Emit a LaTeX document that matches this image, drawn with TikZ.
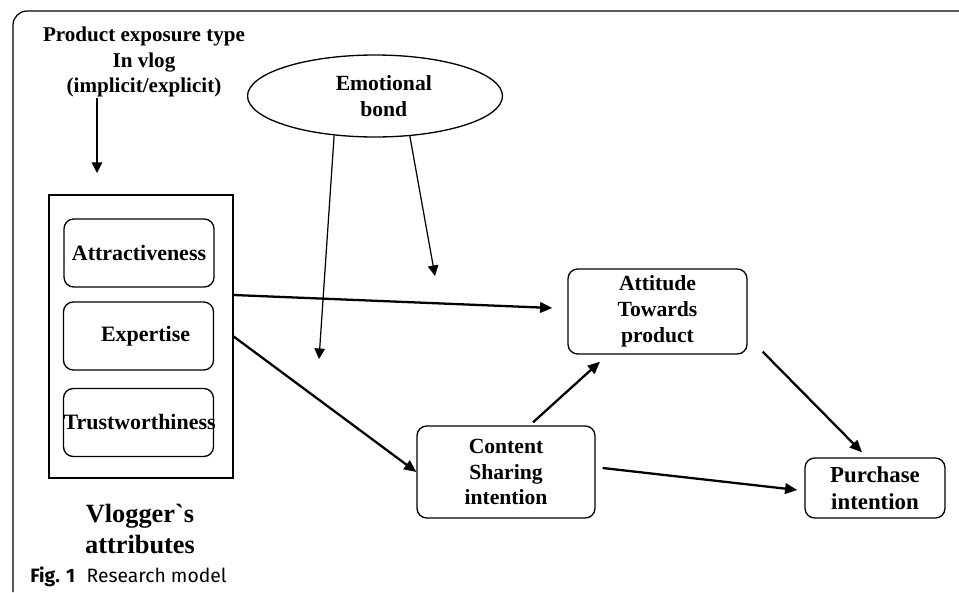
\documentclass[tikz,border=0pt]{standalone}
\usepackage{fontspec}
\setmainfont{Liberation Serif}
\newfontfamily\capfont{Fira Sans}
\usetikzlibrary{arrows.meta,shapes.geometric,calc}

\begin{document}
\begin{tikzpicture}[x=0.02cm,y=-0.02cm,
		lbl/.style={font=\bfseries\fontsize{12}{14.7}\selectfont,align=center,inner sep=0pt},
		attrbox/.style={draw,rounded corners=5.5pt,line width=0.75pt,text width=3cm,minimum height=1.36cm,inner xsep=0pt,align=center,font=\bfseries\fontsize{12.5}{15}\selectfont},
		modelbox/.style={draw,rounded corners=5.5pt,line width=0.75pt,align=center,inner sep=0pt,font=\bfseries\fontsize{12.3}{14.7}\selectfont},
		thinarrow/.style={-{Triangle[length=6pt,width=6pt]},line width=0.7pt},
		thickarrow/.style={-{Triangle[length=7pt,width=6pt]},line width=1.3pt}]
		\useasboundingbox (0,0) rectangle (959,592);
		\draw[line width=0.7pt,rounded corners=8pt] (13,592) -- (13,11) -- (959,11);
		\node[lbl] (expo) at (144,62) {Product exposure type\\In vlog\\(implicit/explicit)};
		\coordinate (expoEnd) at (97,173);
		\draw[thinarrow] (expo.south -| expoEnd) -- (expoEnd);
		\node[draw,line width=0.75pt,minimum width=3.68cm,minimum height=5.66cm] (vattr) at (141,336.5) {};
		\node[attrbox] (attract) at (139,253) {Attractiveness};
		\node[attrbox] (expert) at (138.5,336) {\hspace*{8pt}Expertise};
		\node[attrbox] (trust) at (138.5,422.5) {Trustworthiness};
		\node[lbl,font=\bfseries\fontsize{15}{18}\selectfont] (vname) at (140,529) {Vlogger\textasciigrave s\\attributes};
		\node[anchor=west,inner sep=0pt,font=\capfont\fontsize{11}{13}\selectfont] (cap) at (30,577) {\textbf{Fig. 1}\hspace{0.6em}Research model};
		\node[draw,ellipse,line width=0.75pt,inner sep=0pt,minimum width=5.1cm,minimum height=1.64cm,align=center,font=\bfseries\fontsize{12.3}{14.7}\selectfont] (emo) at (375,96) {\hspace*{10pt}Emotional\\\hspace*{10pt}bond};
		\coordinate (emoL) at (319,359);
		\coordinate (emoR) at (435,276);
		\draw[thinarrow] (emo.-136) -- (emoL);
		\draw[thinarrow] (emo.-49) -- (emoR);
		\node[modelbox,minimum width=3.58cm,minimum height=1.7cm] (attitude) at (657.5,311.5) {Attitude\\Towards\\product};
		\node[modelbox,minimum width=3.56cm,minimum height=1.84cm] (content) at (506,472) {Content\\Sharing\\intention};
		\node[modelbox,minimum width=2.8cm,minimum height=1.2cm,font=\bfseries\fontsize{13}{15}\selectfont] (purchase) at (875,488) {Purchase\\intention};
		\draw[thickarrow] ($(vattr.east)+(0,-41.5)$) -- ($(attitude.west)+(-15,-3.5)$);
		\draw[thickarrow] (vattr.east) -- (content.west);
		\draw[thickarrow] ($(content.north)+(27,-3)$) -- ($(attitude.south)+(-57.5,7)$);
		\draw[thickarrow] ($(attitude.south east)+(15,-3)$) -- ($(purchase.north)+(-13,-5)$);
		\draw[thickarrow] ($(content.east)+(7,-4)$) -- ($(purchase.west)+(-7,2)$);
	\end{tikzpicture}
\end{document}
